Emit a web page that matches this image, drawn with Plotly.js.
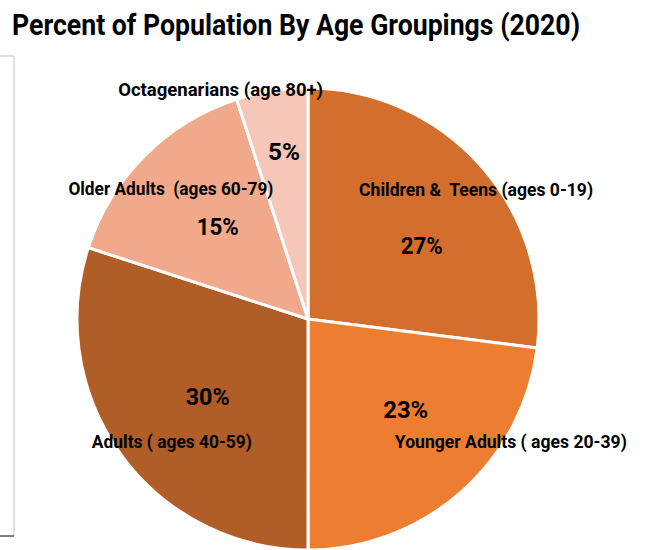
<!DOCTYPE html>
<html>
<head>
<meta charset="utf-8">
<script src="https://cdn.plot.ly/plotly-3.0.1.min.js"></script>
<style>
html,body{margin:0;padding:0;background:#fff;}
#chart{width:646px;height:550px;}
</style>
</head>
<body>
<div id="chart"></div>
<script>
const categories = [
  "Children &  Teens (ages 0-19)",
  "Younger Adults ( ages 20-39)",
  "Adults ( ages 40-59)",
  "Older Adults  (ages 60-79)",
  "Octagenarians (age 80+)"
];
const percents = [27, 23, 30, 15, 5];
const colors = ["#D46E2D", "#ED7D31", "#B15D28", "#F0A98A", "#F6C7B8"];
const titleText = 'Percent of Population By Age Groupings (2020)';

const FONT = 'Roboto, "DejaVu Sans", sans-serif';

// label layout (pixels): centres and rendered widths of name / percent labels
const namePos = [[476,190],[511,442],[172,442],[171,189],[220,90]];
const nameWidth = [234, 232, 160, 205, 205];
const pctPos  = [[421,246],[405,410],[207,397],[217,227],[284,152]];
const pctWidth = [42, 45, 44, 42, 32];
const titleWidth = 568;
const W = 646, H = 550;

const annotations = [];
categories.forEach((c, i) => {
  annotations.push({
    text: c, xref: 'paper', yref: 'paper',
    x: namePos[i][0] / W, y: 1 - namePos[i][1] / H,
    xanchor: 'center', yanchor: 'middle', showarrow: false,
    font: {family: FONT, size: 18, color: '#000', weight: 700}
  });
  annotations.push({
    text: percents[i] + '%', xref: 'paper', yref: 'paper',
    x: pctPos[i][0] / W, y: 1 - pctPos[i][1] / H,
    xanchor: 'center', yanchor: 'middle', showarrow: false,
    font: {family: FONT, size: 23, color: '#000', weight: 700}
  });
});

const data = [{
  type: 'pie',
  labels: categories,
  values: percents,
  sort: false,
  direction: 'clockwise',
  rotation: 0,
  textinfo: 'none',
  hoverinfo: 'label+percent',
  marker: {colors: colors, line: {color: '#fff', width: 3}},
  domain: {x: [76 / W, 540 / W], y: [0, 1 - 88 / H]},
  showlegend: false
}];

const layout = {
  width: W, height: H,
  margin: {l: 0, r: 0, t: 0, b: 0},
  paper_bgcolor: '#fff',
  title: {
    text: titleText,
    x: 12 / W, xanchor: 'left', xref: 'paper',
    y: 1 - 25 / H, yanchor: 'middle', yref: 'container',
    font: {family: FONT, size: 29, color: '#000', weight: 700}
  },
  annotations: annotations,
  shapes: [
    {type: 'line', xref: 'paper', yref: 'paper', x0: 14 / W, x1: 14 / W, y0: 1 - 56 / H, y1: 1 - 536 / H, line: {color: '#BFBFBF', width: 1}},
    {type: 'line', xref: 'paper', yref: 'paper', x0: 0, x1: 14 / W, y0: 1 - 56 / H, y1: 1 - 56 / H, line: {color: '#BFBFBF', width: 1}},
    {type: 'line', xref: 'paper', yref: 'paper', x0: 0, x1: 14 / W, y0: 1 - 536 / H, y1: 1 - 536 / H, line: {color: '#000', width: 1}}
  ]
};

// condensed look: squeeze each text to the reference's width (text stays real text)
function condense(gd) {
  const widths = {};
  widths[titleText] = titleWidth;
  categories.forEach((c, i) => {
    widths[c] = nameWidth[i];
  });
  gd.querySelectorAll('text').forEach(t => {
    const s = t.textContent;
    let w = widths[s];
    if (w === undefined) {
      const k = percents.findIndex(p => p + '%' === s);
      if (k >= 0) w = pctWidth[k];
    }
    if (w !== undefined) {
      t.setAttribute('textLength', w);
      t.setAttribute('lengthAdjust', 'spacingAndGlyphs');
    }
  });
}

Plotly.newPlot('chart', data, layout, {displayModeBar: false, staticPlot: true})
  .then(gd => condense(gd));
</script>
</body>
</html>
